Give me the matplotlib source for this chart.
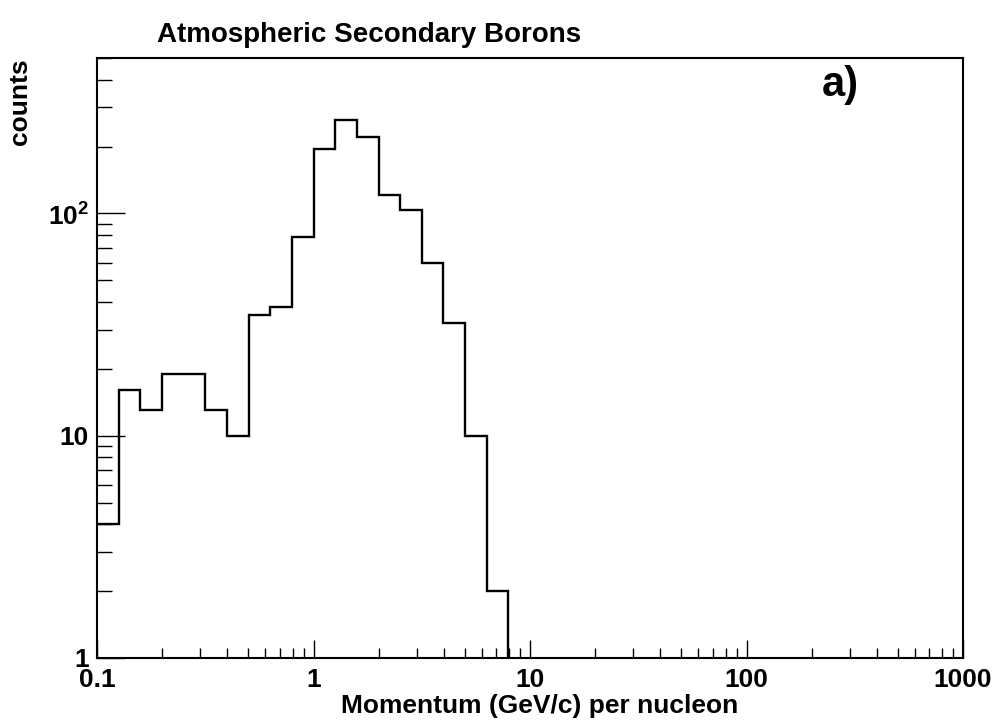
import matplotlib
matplotlib.use("Agg")
import matplotlib.pyplot as plt
from matplotlib.ticker import LogLocator, FixedLocator, NullFormatter

plt.rcParams['font.family'] = ['Liberation Sans', 'DejaVu Sans']
plt.rcParams['font.weight'] = 'bold'
plt.rcParams['mathtext.fontset'] = 'custom'
plt.rcParams['mathtext.rm'] = 'Liberation Sans:bold'
plt.rcParams['mathtext.bf'] = 'Liberation Sans:bold'

# histogram bins (momentum per nucleon, GeV/c), 10 bins per decade
bin_edges = [0.1, 0.126, 0.158, 0.2, 0.251, 0.316, 0.398, 0.501, 0.631, 0.794,
             1.0, 1.26, 1.58, 2.0, 2.51, 3.16, 3.98, 5.01, 6.31, 7.94, 10.0]
counts = [4, 16, 13, 19, 19, 13, 10, 35, 38, 78,
          195, 264, 222, 121, 104, 60, 32, 10, 2, 0]

x_ticks = [0.1, 1, 10, 100, 1000]
x_ticklabels = ['0.1', '1', '10', '100', '1000']
y_ticks = [1, 10, 100]
y_ticklabels = ['1', '10', '$10^{2}$']

fs = 19

fig = plt.figure(figsize=(10, 7.27), dpi=100)
ax = fig.add_axes([0.097, 0.095, 0.866, 0.825])

ax.stairs(counts, bin_edges, baseline=None, color='black', linewidth=1.7)

ax.set_xscale('log')
ax.set_yscale('log')
ax.set_xlim(0.1, 1000)
ax.set_ylim(1, 500)

ax.xaxis.set_major_locator(FixedLocator(x_ticks))
ax.set_xticklabels(x_ticklabels)
ax.xaxis.set_minor_locator(LogLocator(base=10, subs=range(2, 10)))
ax.xaxis.set_minor_formatter(NullFormatter())
ax.yaxis.set_major_locator(FixedLocator(y_ticks))
ax.set_yticklabels(y_ticklabels)
ax.yaxis.set_minor_locator(LogLocator(base=10, subs=range(2, 10)))
ax.yaxis.set_minor_formatter(NullFormatter())

ax.tick_params(axis='x', which='major', direction='in', length=13, width=1.0,
               labelsize=fs, pad=7, top=False)
ax.tick_params(axis='x', which='minor', direction='in', length=7, width=1.0, top=False)
ax.tick_params(axis='y', which='major', direction='in', length=20, width=1.0,
               labelsize=fs, pad=6, right=False)
ax.tick_params(axis='y', which='minor', direction='in', length=11, width=1.0, right=False)

for s in ax.spines.values():
    s.set_linewidth(1.5)

ax.text(0.858, 0.955, 'a)', transform=ax.transAxes, fontsize=30,
        fontweight='bold', ha='center', va='center')

fig.text(0.157, 1 - 35 / 727, 'Atmospheric Secondary Borons', fontsize=20,
         fontweight='bold', ha='left', va='center')
fig.text(0.02, 1 - 58 / 727, 'counts', fontsize=fs, fontweight='bold',
         rotation=90, ha='center', va='top')
fig.text(0.738, 1 - 706 / 727, 'Momentum (GeV/c) per nucleon', fontsize=fs,
         fontweight='bold', ha='right', va='center')

fig.savefig('out.png', dpi=100)
